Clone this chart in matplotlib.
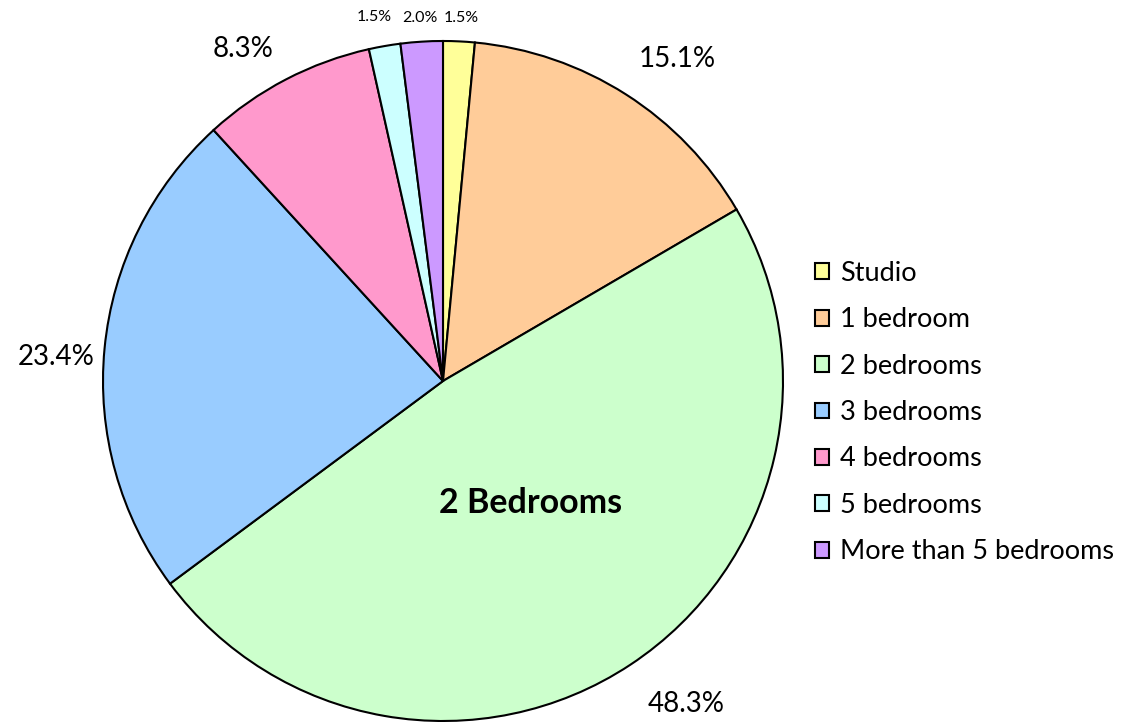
import numpy as np
import matplotlib.pyplot as plt

plt.rcParams['font.family'] = ['Lato', 'DejaVu Sans']

categories = ['Studio', '1 bedroom', '2 bedrooms', '3 bedrooms',
              '4 bedrooms', '5 bedrooms', 'More than 5 bedrooms']
shares = [1.5, 15.1, 48.3, 23.4, 8.3, 1.5, 2.0]
colors = ['#FFFF99', '#FFCC99', '#CCFFCC', '#99CCFF',
          '#FF99CC', '#CCFFFF', '#CC99FF']

# label placement: distance in pie radii and angular nudge (deg, clockwise)
label_r = [1.07, 1.17, 1.19, 1.14, 1.14, 1.09, 1.07]
label_da = [0.2, 3.5, -3.5, -2.0, -3.5, -0.8, -0.1]
label_fs = [11.5, 20, 20, 20, 20, 11.5, 11.5]

W, H = 1134, 722
fig = plt.figure(figsize=(W / 100, H / 100), dpi=100)
ax = fig.add_axes([0, 0, 1, 1])

cx, cy, R = 443, H - 381, 340
wedges, _ = ax.pie(shares, colors=colors, startangle=90, counterclock=False,
                   center=(cx, cy), radius=R, frame=True,
                   wedgeprops=dict(edgecolor='black', linewidth=1.5))

for w, val, r, da, fs in zip(wedges, shares, label_r, label_da, label_fs):
    mid = np.deg2rad((w.theta1 + w.theta2) / 2 - da)
    ax.text(cx + r * R * np.cos(mid), cy + r * R * np.sin(mid), f'{val:.1f}%',
            ha='center', va='center', fontsize=fs)

ax.text(531, H - 503, '2 Bedrooms', ha='center', va='center',
        fontsize=24.5, fontweight='bold')

ax.set_xlim(0, W)
ax.set_ylim(0, H)
ax.set_aspect('equal')
ax.axis('off')

ax.legend(wedges, categories, loc='upper left', frameon=False,
          bbox_to_anchor=(804 / W, 1 - 250 / H), fontsize=19.5,
          handlelength=0.52, handleheight=0.52, handletextpad=0.4,
          labelspacing=0.79, borderaxespad=0)

fig.savefig('out.png', dpi=100)
